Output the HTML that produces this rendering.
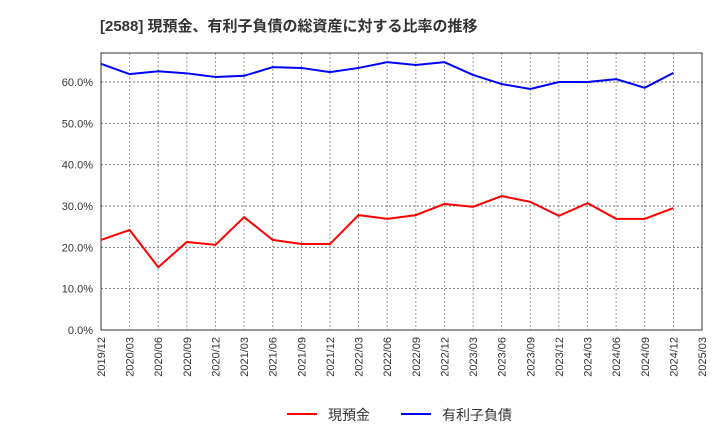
<!DOCTYPE html>
<html><head><meta charset="utf-8"><style>
body{margin:0;background:#fff;font-family:"Liberation Sans","Noto Sans CJK JP",sans-serif}
</style></head><body>
<svg width="720" height="440" xmlns="http://www.w3.org/2000/svg">
<text x="100" y="31" font-size="15" font-weight="bold" fill="#333">[2588]  現預金、有利子負債の総資産に対する比率の推移</text>
<g id="grid"></g>
<g id="axes"></g>
<g id="series"></g>
<g>
<line x1="287" y1="414" x2="317" y2="414" stroke="#f00" stroke-width="2"/>
<text x="328" y="420" font-size="14" fill="#333">現預金</text>
<line x1="401" y1="414" x2="431" y2="414" stroke="#00f" stroke-width="2"/>
<text x="442" y="420" font-size="14" fill="#333">有利子負債</text>
</g>
</svg>
<script>
const categories=["2019/12","2020/03","2020/06","2020/09","2020/12","2021/03","2021/06","2021/09","2021/12","2022/03","2022/06","2022/09","2022/12","2023/03","2023/06","2023/09","2023/12","2024/03","2024/06","2024/09","2024/12","2025/03"];
const cashValues=[21.8,24.2,15.2,21.3,20.6,27.3,21.8,20.8,20.8,27.8,26.9,27.8,30.5,29.8,32.4,31.0,27.6,30.7,26.9,26.9,29.5];
const debtValues=[64.4,61.9,62.6,62.1,61.2,61.5,63.6,63.4,62.4,63.4,64.8,64.1,64.8,61.7,59.5,58.3,60.0,60.0,60.7,58.6,62.2];
const yTicks=[0,10,20,30,40,50,60];
const NS="http://www.w3.org/2000/svg";
const L=101,R=702,T=53,B=330;
const x=i=>L+i*(R-L)/(categories.length-1);
const y=v=>B-v*(B-82)/60;
function mk(tag,attrs,parent){const e=document.createElementNS(NS,tag);for(const k in attrs)e.setAttribute(k,attrs[k]);parent.appendChild(e);return e;}
const grid=document.getElementById('grid'),axes=document.getElementById('axes'),series=document.getElementById('series');
categories.forEach((c,i)=>{
  const gl=mk('line',{x1:x(i),x2:x(i),y1:T,y2:B,stroke:'#999','stroke-dasharray':'2,2','stroke-width':1},grid);
  
  
  const tx=x(i)+4,ty=337;
  const t=mk('text',{x:tx,y:ty,'font-size':11,fill:'#333','text-anchor':'end',transform:`rotate(-90 ${tx} ${ty})`},axes);
  t.textContent=c;
  
  
});
yTicks.forEach(v=>{
  const gl=mk('line',{x1:L,x2:R,y1:y(v),y2:y(v),stroke:'#777','stroke-dasharray':'2,2','stroke-width':1},grid);
  
  
  const t=mk('text',{x:93,y:y(v)+4,'font-size':11,fill:'#333','text-anchor':'end'},axes);
  t.textContent=v.toFixed(1)+'%';
  
  
});
const frame=mk('rect',{x:L,y:T,width:R-L,height:B-T,fill:'none',stroke:'#333','stroke-width':1},axes);


function line(vals,color,name){
  const p=mk('polyline',{points:vals.map((v,i)=>x(i)+','+y(v)).join(' '),fill:'none',stroke:color,'stroke-width':2},series);
  
  
}
line(cashValues,'#f00','cash-line');
line(debtValues,'#00f','debt-line');
</script>
</body></html>
